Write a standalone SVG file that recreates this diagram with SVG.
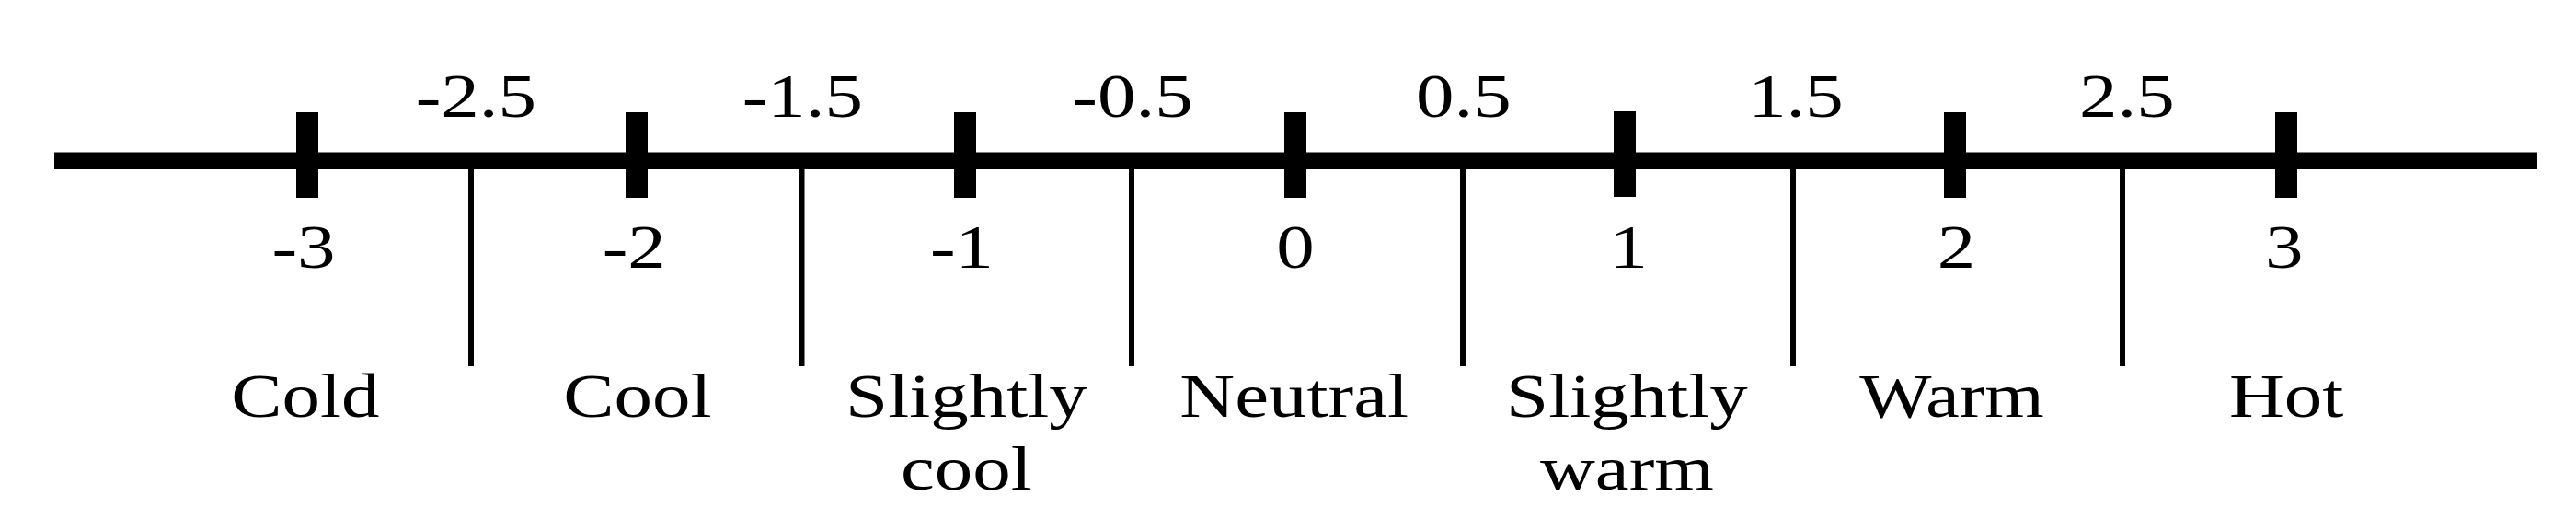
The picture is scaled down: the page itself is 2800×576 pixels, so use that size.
<svg xmlns="http://www.w3.org/2000/svg" width="2800" height="576" viewBox="0 0 2800 576">
<style>
.t{font-family:"Liberation Serif","Times New Roman",serif;font-size:68px;fill:#000;text-anchor:middle}
.tick{fill:#000}
.div{stroke:#000;stroke-width:6}
</style>
<rect width="2800" height="576" fill="#fff"/>
<g id="axis">
<rect x="59" y="165.5" width="2699" height="18.5" fill="#000"/>
</g>
<g id="ticks">
<rect class="tick" x="322" y="122" width="24" height="93"/>
<rect class="tick" x="680" y="122" width="24" height="93"/>
<rect class="tick" x="1037" y="122" width="24" height="93"/>
<rect class="tick" x="1396" y="122" width="24" height="93"/>
<rect class="tick" x="1754" y="121" width="24" height="93"/>
<rect class="tick" x="2113" y="122" width="24" height="93"/>
<rect class="tick" x="2473" y="122" width="24" height="93"/>
</g>
<g id="dividers">
<line class="div" x1="512" y1="184" x2="512" y2="398"/>
<line class="div" x1="871.5" y1="184" x2="871.5" y2="398"/>
<line class="div" x1="1230" y1="184" x2="1230" y2="398"/>
<line class="div" x1="1590" y1="184" x2="1590" y2="398"/>
<line class="div" x1="1949" y1="184" x2="1949" y2="398"/>
<line class="div" x1="2307" y1="184" x2="2307" y2="398"/>
</g>
<g transform="scale(1.22,1)">
<g id="bounds">
<text class="t" x="424" y="127">-2.5</text>
<text class="t" x="715" y="127">-1.5</text>
<text class="t" x="1009" y="127">-0.5</text>
<text class="t" x="1304" y="127">0.5</text>
<text class="t" x="1600" y="127">1.5</text>
<text class="t" x="1895" y="127">2.5</text>
</g>
<g id="values">
<text class="t" x="270.5" y="291">-3</text>
<text class="t" x="565" y="291">-2</text>
<text class="t" x="857" y="291">-1</text>
<text class="t" x="1154" y="291">0</text>
<text class="t" x="1451" y="291">1</text>
<text class="t" x="1743" y="291">2</text>
<text class="t" x="2035" y="291">3</text>
</g>
<g id="labels">
<text class="t" x="272" y="453">Cold</text>
<text class="t" x="568" y="453">Cool</text>
<text class="t" x="861" y="453">Slightly</text>
<text class="t" x="861" y="532">cool</text>
<text class="t" x="1153" y="453">Neutral</text>
<text class="t" x="1449.5" y="453">Slightly</text>
<text class="t" x="1449.5" y="532">warm</text>
<text class="t" x="1739" y="453">Warm</text>
<text class="t" x="2037" y="453">Hot</text>
</g>
</g>
</svg>
